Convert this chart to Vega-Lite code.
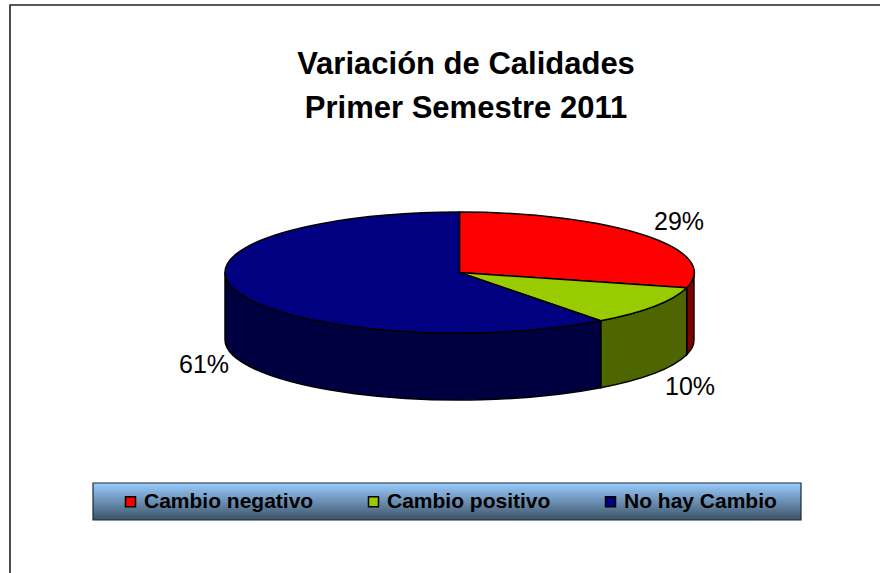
{
"$schema":"https://vega.github.io/schema/vega-lite/v6.json",
"width":880,"height":573,"padding":0,"autosize":"none","background":"white",
"config":{"view":{"stroke":null},"text":{"font":"Liberation Sans"}},
"title":{"text":["Variación de Calidades","Primer Semestre 2011"],"font":"Liberation Sans","fontSize":31,"fontWeight":"bold","lineHeight":44,"color":"black","anchor":"middle","dx":26,"offset":-125},
"data":{"values":[
{"categoria":"Cambio negativo","valor":0.29},
{"categoria":"Cambio positivo","valor":0.10},
{"categoria":"No hay Cambio","valor":0.61}
]},
"layer":[
{"data":{"values":[{"elemento":"marco"}]},
 "mark":{"type":"point","filled":false,"opacity":1,"stroke":"#222222","strokeWidth":1.6,"shape":"M-430 287 L-430 -281.5 L441 -281.5","size":4}},
{"data":{"values":[{"elemento":"fondo de leyenda"}]},
 "mark":{"type":"point","filled":true,"opacity":1,"stroke":"#1a2a3a","strokeWidth":1.2,"shape":"M-347 196.5 L361 196.5 L361 233.5 L-347 233.5 Z","size":4,
  "fill":{"gradient":"linear","x1":0,"y1":0,"x2":0,"y2":1,"stops":[{"offset":0,"color":"#99ccff"},{"offset":1,"color":"#3d5266"}]}}},
{"mark":{"type":"point","filled":true,"opacity":1,"stroke":"black","strokeWidth":1.5,"size":4},
 "encoding":{
  "shape":{"field":"categoria","type":"nominal","legend":null,"scale":{"domain":["Cambio negativo","Cambio positivo","No hay Cambio"],"range":[
   "M254 -14 A234.5 60.5 0 0 1 246.7 1.3 L246.7 68.3 A234.5 60.5 0 0 0 254 53 Z",
   "M246.7 1.3 A234.5 60.5 0 0 1 160.7 34.3 L160.7 101.3 A234.5 60.5 0 0 0 246.7 68.3 Z",
   "M160.7 34.3 A234.5 60.5 0 0 1 -215 -14 L-215 53 A234.5 60.5 0 0 0 160.7 101.3 Z"]}},
  "color":{"field":"categoria","type":"nominal","legend":null,"scale":{"domain":["Cambio negativo","Cambio positivo","No hay Cambio"],"range":["#800000","#4d6600","#000040"]}}
 }},
{"mark":{"type":"point","filled":true,"opacity":1,"stroke":"black","strokeWidth":1.5,"size":4},
 "encoding":{
  "shape":{"field":"categoria","type":"nominal","legend":null,"scale":{"domain":["Cambio negativo","Cambio positivo","No hay Cambio"],"range":[
   "M19.5 -14 L19.5 -74.5 A234.5 60.5 0 0 1 246.7 1.3 Z",
   "M19.5 -14 L246.7 1.3 A234.5 60.5 0 0 1 160.7 34.3 Z",
   "M19.5 -14 L160.7 34.3 A234.5 60.5 0 1 1 19.5 -74.5 Z"]}},
  "fill":{"field":"categoria","type":"nominal","scale":{"domain":["Cambio negativo","Cambio positivo","No hay Cambio"],"range":["#ff0000","#99cc00","#000080"]},
   "legend":{"title":null,"orient":"none","legendX":120,"legendY":491,"direction":"horizontal","columns":3,"symbolType":"square","symbolSize":100,"symbolStrokeColor":"black","symbolStrokeWidth":1.5,"labelFont":"Liberation Sans","labelFontWeight":"bold","labelFontSize":21,"labelColor":"black","labelLimit":300,"padding":0,"columnPadding":49,"labelOffset":3,"zindex":1}}
 }},
{"transform":[{"filter":"datum.categoria==='Cambio negativo'"}],"mark":{"type":"text","font":"Liberation Sans","fontSize":25,"color":"black","baseline":"middle","dx":239,"dy":-65},"encoding":{"text":{"field":"valor","type":"quantitative","format":".0%"}}},
{"transform":[{"filter":"datum.categoria==='Cambio positivo'"}],"mark":{"type":"text","font":"Liberation Sans","fontSize":25,"color":"black","baseline":"middle","dx":250,"dy":100},"encoding":{"text":{"field":"valor","type":"quantitative","format":".0%"}}},
{"transform":[{"filter":"datum.categoria==='No hay Cambio'"}],"mark":{"type":"text","font":"Liberation Sans","fontSize":25,"color":"black","baseline":"middle","dx":-236,"dy":78},"encoding":{"text":{"field":"valor","type":"quantitative","format":".0%"}}}
],
"resolve":{"scale":{"shape":"independent","color":"independent"}}
}
